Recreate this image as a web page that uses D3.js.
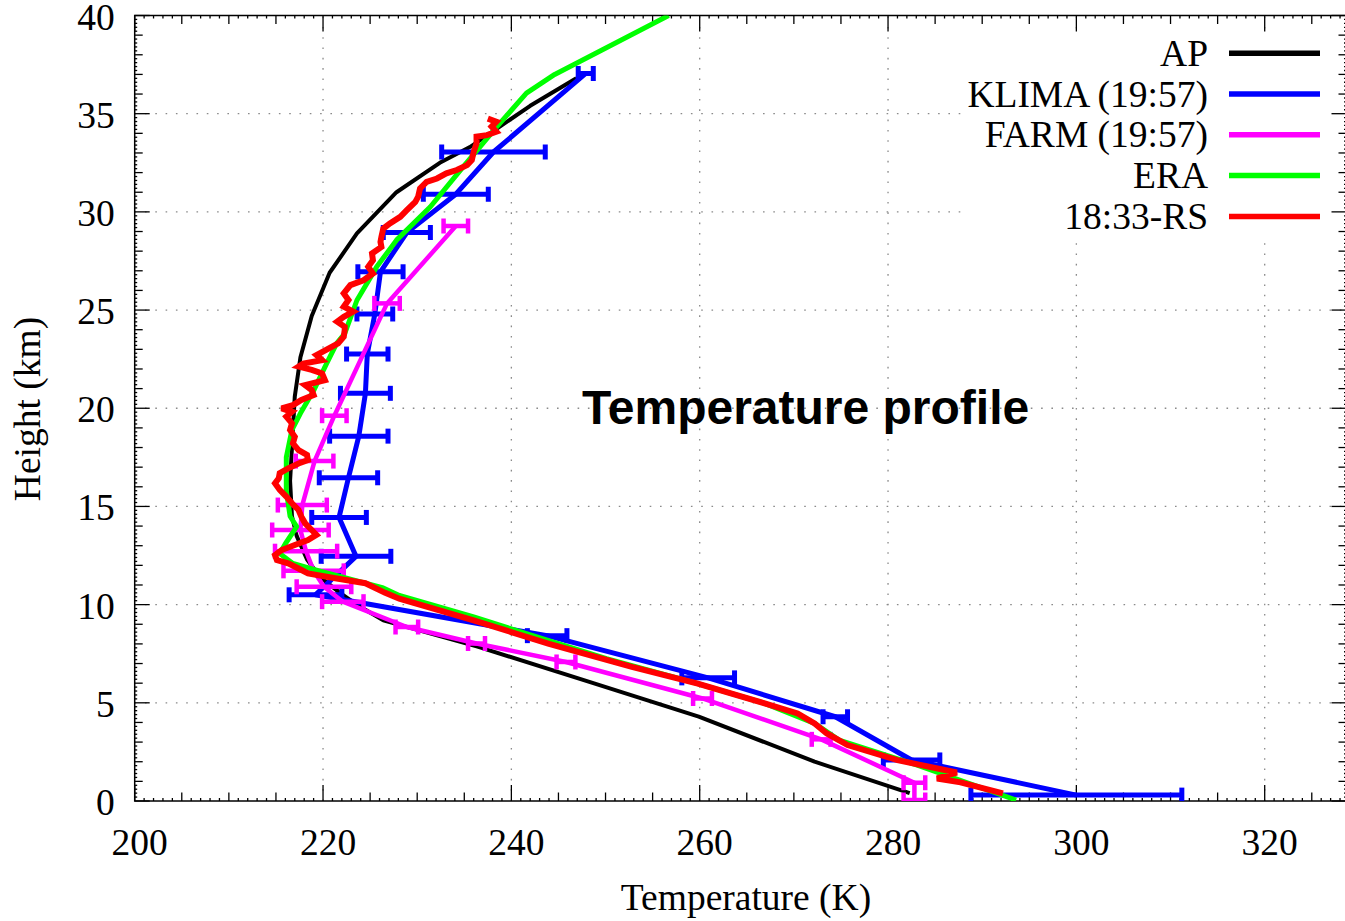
<!DOCTYPE html>
<html><head><meta charset="utf-8">
<script src="https://cdn.jsdelivr.net/npm/d3@7"></script>
<style>body{margin:0;background:#fff;} svg{display:block;}</style>
</head><body><svg id="c" width="1345" height="921"></svg>
<script>
// ---------------- DATA ----------------
const xTicks = [200, 220, 240, 260, 280, 300, 320];
const yTicks = [0, 5, 10, 15, 20, 25, 30, 35, 40];
const seriesNames = ["AP", "KLIMA (19:57)", "FARM (19:57)", "ERA", "18:33-RS"];
const seriesColors = ["#000000", "#0000ff", "#ff00ff", "#00ff00", "#ff0000"];

// AP (a-priori) profile
const apHeight = [0.4, 2.0, 4.3, 6.0, 7.85, 9.2, 9.9, 10.6, 11.4, 12.3, 13.5, 14.5, 16.3, 18.0, 20.6, 22.6, 24.0, 24.7, 26.9, 28.9, 31.0, 32.5, 33.3, 35.4, 36.8];
const apTemp   = [282.3, 272.2, 259.9, 248.7, 236.5, 226.4, 223.9, 221.8, 219.7, 218.3, 217.2, 216.7, 216.5, 216.7, 217.0, 217.6, 218.4, 218.8, 220.7, 223.6, 227.8, 232.4, 235.6, 242.0, 246.9];

// KLIMA retrieval with errors
const klimaHeight = [0.3, 2.09, 4.29, 6.27, 8.42, 10.5, 12.46, 14.44, 16.46, 18.58, 20.76, 22.76, 24.8, 26.95, 28.95, 30.9, 33.05, 37.05];
const klimaTemp   = [300.0, 282.5, 274.4, 260.9, 243.8, 219.2, 223.5, 221.7, 222.7, 223.8, 224.5, 224.7, 225.5, 226.1, 228.9, 234.1, 238.1, 247.9];
const klimaErr    = [11.2, 3.0, 1.3, 2.8, 2.1, 2.8, 3.7, 2.9, 3.1, 3.1, 2.65, 2.2, 1.9, 2.4, 2.5, 3.45, 5.5, 0.8];

// FARM retrieval with errors
const farmHeight = [0.05, 0.93, 3.14, 5.22, 7.08, 8.02, 8.86, 10.15, 10.91, 11.72, 12.72, 13.8, 15.07, 17.31, 19.62, 25.34, 29.28];
const farmTemp   = [282.8, 282.8, 272.9, 260.3, 245.8, 236.3, 228.9, 222.1, 220.1, 219.0, 218.2, 217.6, 217.8, 219.1, 221.2, 226.8, 234.1];
const farmErr    = [1.15, 1.15, 1.0, 1.0, 1.0, 0.9, 1.2, 2.2, 2.9, 3.2, 3.3, 3.0, 2.6, 2.0, 1.3, 1.35, 1.3];

// ERA profile
const eraHeight = [0.05, 1.83, 3.1, 3.95, 4.97, 5.98, 7.25, 9.37, 10.47, 10.85, 11.76, 12.1, 12.6, 13.1, 13.97, 14.5, 15.8, 17.5, 18.9, 19.74, 20.9, 22.3, 23.3, 23.8, 25.5, 27.2, 28.56, 30.26, 32.3, 34.3, 36.05, 37.0, 40.0];
const eraTemp   = [293.6, 283.1, 274.8, 272.2, 266.9, 259.8, 250.1, 236.0, 228.1, 226.4, 219.3, 216.8, 215.4, 216.0, 217.2, 216.5, 216.1, 216.1, 216.7, 217.6, 219.0, 220.4, 221.45, 222.3, 223.6, 225.7, 227.8, 231.4, 234.9, 238.4, 241.6, 244.6, 256.7];

// 18:33 radiosonde
const rsHeight = [0.39, 0.95, 1.15, 1.45, 2.08, 2.85, 3.44, 3.95, 4.46, 4.97, 5.98, 6.83, 8.0, 9.2, 10.3, 10.6, 11.09, 11.34, 11.59, 11.84, 12.1, 12.27, 12.53, 12.78, 13.04, 13.29, 13.55, 13.8, 14.14, 14.48, 14.82, 15.16, 15.5, 15.84, 16.18, 16.43, 16.69, 16.94, 17.19, 17.36, 17.62, 17.87, 18.21, 18.55, 18.89, 19.23, 19.57, 19.82, 19.99, 20.16, 20.42, 20.67, 20.93, 21.18, 21.43, 21.77, 21.95, 22.12, 22.28, 22.45, 22.71, 23.3, 23.64, 23.98, 24.15, 24.41, 24.66, 24.92, 25.17, 25.51, 25.85, 26.27, 26.52, 26.86, 27.2, 27.54, 27.88, 28.22, 28.47, 28.73, 29.15, 29.41, 29.75, 30.09, 30.51, 30.77, 31.19, 31.53, 31.7, 31.96, 32.13, 32.38, 32.64, 33.06, 33.49, 33.83, 33.91, 34.08, 34.34, 34.59, 34.75];
const rsTemp   = [292.2, 287.7, 285.2, 287.3, 281.0, 275.7, 273.5, 272.2, 270.4, 266.9, 259.8, 252.8, 244.0, 236.0, 228.1, 226.6, 224.5, 221.3, 218.4, 217.4, 216.3, 215.1, 214.9, 215.6, 217.0, 218.4, 219.3, 218.8, 218.1, 217.7, 217.4, 216.7, 216.1, 215.4, 214.9, 215.3, 215.4, 216.3, 217.4, 218.4, 218.3, 217.4, 216.8, 217.0, 216.5, 216.7, 216.1, 216.7, 215.6, 216.8, 217.7, 219.0, 218.8, 218.1, 220.2, 219.9, 218.8, 217.4, 217.9, 219.9, 219.3, 221.6, 222.2, 222.3, 222.3, 221.5, 222.2, 223.2, 222.2, 222.7, 222.2, 222.9, 224.3, 225.3, 224.8, 225.3, 225.2, 226.2, 226.1, 226.2, 226.4, 227.1, 228.2, 228.9, 229.8, 230.1, 230.3, 231.0, 232.1, 233.1, 234.2, 235.3, 235.8, 236.0, 236.3, 236.3, 237.4, 238.4, 237.9, 238.4, 237.5];

// ---------------- CHART ----------------
const svg = d3.select('#c');
const x = d3.scaleLinear().domain([200, 320]).range([134.7, 1264.7]);
const y = d3.scaleLinear().domain([0, 40]).range([801, 15.5]);
const plotL = x(200), plotR = 1346.5, plotT = y(40), plotB = y(0);
const serif = "'Liberation Serif','Times New Roman',serif";
const fs = 37.5;

svg.append('defs').append('clipPath').attr('id', 'clip')
  .append('rect').attr('x', plotL).attr('y', plotT).attr('width', plotR - plotL).attr('height', plotB - plotT);

// grid
const grid = svg.append('g').attr('stroke', '#8a8a8a').attr('stroke-width', 1.3).attr('stroke-dasharray', '1.6,8.7');
xTicks.filter(v => v > 200).forEach(v => grid.append('line').attr('x1', x(v)).attr('x2', x(v)).attr('y1', plotB).attr('y2', plotT));
yTicks.filter(v => v > 0 && v < 40).forEach(v => grid.append('line').attr('x1', plotL).attr('x2', plotR).attr('y1', y(v)).attr('y2', y(v)));

// opaque legend box
svg.append('rect').attr('x', 962).attr('y', 32).attr('width', 380).attr('height', 205).attr('fill', '#fff');

// ticks
const tk = svg.append('g').attr('stroke', '#000').attr('stroke-width', 1.3);
const range = (a, b, s) => d3.range(Math.round(a / s), Math.round(b / s) + 1).map(i => +(i * s).toFixed(3));
const xMax = x.invert(plotR);
range(200, xMax, 1).forEach(v => {
  const len = (v % 20 === 0) ? 16 : (v % 5 === 0 ? 8.5 : 3);
  tk.append('line').attr('x1', x(v)).attr('x2', x(v)).attr('y1', plotB).attr('y2', plotB - len);
  tk.append('line').attr('x1', x(v)).attr('x2', x(v)).attr('y1', plotT).attr('y2', plotT + len);
});
range(0, 40, 0.2).forEach(v => {
  const r = Math.round(v * 10);
  const len = (r % 50 === 0) ? 15 : (r % 10 === 0 ? 8 : 2.5);
  tk.append('line').attr('x1', plotL).attr('x2', plotL + len).attr('y1', y(v)).attr('y2', y(v));
  tk.append('line').attr('x1', plotR).attr('x2', plotR - len).attr('y1', y(v)).attr('y2', y(v));
});
// frame
svg.append('rect').attr('x', plotL).attr('y', plotT).attr('width', plotR - plotL).attr('height', plotB - plotT)
  .attr('fill', 'none').attr('stroke', '#000').attr('stroke-width', 1.5);

// tick labels via axes
const xAxis = svg.append('g').attr('transform', `translate(0,${plotB})`)
  .call(d3.axisBottom(x).tickValues(xTicks).tickSize(0).tickPadding(0).tickFormat(d3.format('d')));
xAxis.select('.domain').remove();
xAxis.selectAll('text').attr('y', 54).attr('dy', 0).attr('dx', 4.5)
  .attr('font-family', serif).attr('font-size', fs).attr('fill', '#000');

const yAxis = svg.append('g').attr('transform', `translate(${plotL},0)`)
  .call(d3.axisLeft(y).tickValues(yTicks).tickSize(0).tickPadding(0).tickFormat(d3.format('d')));
yAxis.select('.domain').remove();
yAxis.selectAll('text').attr('x', -20).attr('dy', 13.5).attr('text-anchor', 'end')
  .attr('font-family', serif).attr('font-size', fs).attr('fill', '#000');

// axis titles
svg.append('text').attr('x', 746).attr('y', 910).attr('text-anchor', 'middle')
  .attr('font-family', serif).attr('font-size', fs).text('Temperature (K)');
svg.append('text').attr('transform', 'translate(40,409) rotate(-90)').attr('text-anchor', 'middle')
  .attr('font-family', serif).attr('font-size', fs).text('Height (km)');

// series
const plot = svg.append('g').attr('clip-path', 'url(#clip)');
const line = d3.line().x(d => x(d[1])).y(d => y(d[0]));
const zip = (a, b) => a.map((v, i) => [v, b[i]]);

function drawErr(hs, ts, es, color, w) {
  const g = plot.append('g').attr('stroke', color).attr('stroke-width', w).attr('fill', 'none');
  hs.forEach((h, i) => {
    const yy = y(h), x1 = x(ts[i] - es[i]), x2 = x(ts[i] + es[i]);
    g.append('line').attr('x1', x1).attr('x2', x2).attr('y1', yy).attr('y2', yy);
    g.append('line').attr('x1', x1).attr('x2', x1).attr('y1', yy - 7.5).attr('y2', yy + 7.5);
    g.append('line').attr('x1', x2).attr('x2', x2).attr('y1', yy - 7.5).attr('y2', yy + 7.5);
  });
}

plot.append('path').attr('d', line(zip(apHeight, apTemp))).attr('fill', 'none')
  .attr('stroke', seriesColors[0]).attr('stroke-width', 4).attr('stroke-linejoin', 'round');
plot.append('path').attr('d', line(zip(klimaHeight, klimaTemp))).attr('fill', 'none')
  .attr('stroke', seriesColors[1]).attr('stroke-width', 5).attr('stroke-linejoin', 'round');
drawErr(klimaHeight, klimaTemp, klimaErr, seriesColors[1], 5);
plot.append('path').attr('d', line(zip(farmHeight, farmTemp))).attr('fill', 'none')
  .attr('stroke', seriesColors[2]).attr('stroke-width', 4.5).attr('stroke-linejoin', 'round');
drawErr(farmHeight, farmTemp, farmErr, seriesColors[2], 4.5);
plot.append('path').attr('d', line(zip(eraHeight, eraTemp))).attr('fill', 'none')
  .attr('stroke', seriesColors[3]).attr('stroke-width', 5).attr('stroke-linejoin', 'round');
plot.append('path').attr('d', line(zip(rsHeight, rsTemp))).attr('fill', 'none')
  .attr('stroke', seriesColors[4]).attr('stroke-width', 6).attr('stroke-linejoin', 'miter').attr('stroke-miterlimit', 3);

// legend
const lg = svg.append('g');
seriesNames.forEach((n, i) => {
  const yy = 53.2 + i * 40.8;
  lg.append('text').attr('x', 1208).attr('y', yy + 12.5).attr('text-anchor', 'end')
    .attr('font-family', serif).attr('font-size', fs).text(n);
  lg.append('line').attr('x1', 1229).attr('x2', 1320).attr('y1', yy).attr('y2', yy)
    .attr('stroke', seriesColors[i]).attr('stroke-width', 5.5);
});

// title
svg.append('text').attr('x', 582).attr('y', 424)
  .attr('font-family', "'Liberation Sans',Arial,sans-serif").attr('font-weight', 'bold').attr('font-size', 48)
  .text('Temperature profile');
</script></body></html>
